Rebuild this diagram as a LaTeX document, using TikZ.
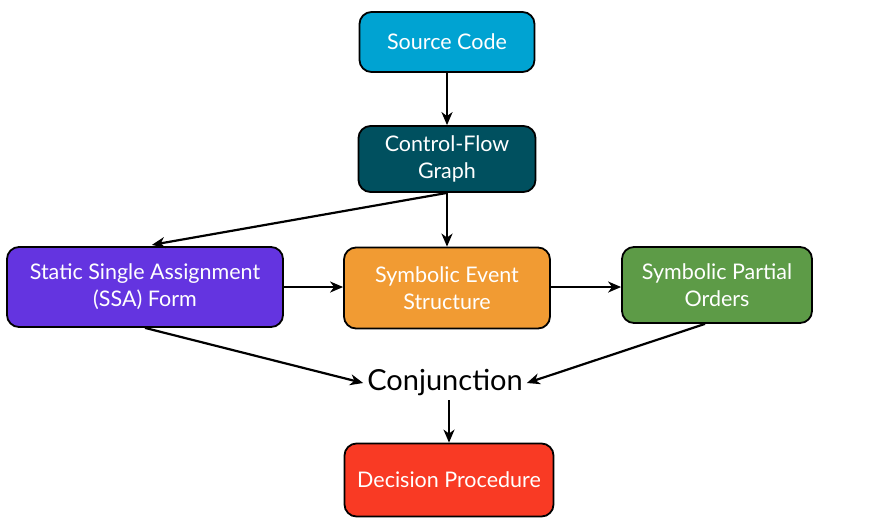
\documentclass[tikz,border=0pt]{standalone}
\usepackage{fontspec}
\setmainfont{Lato}
\usetikzlibrary{arrows.meta}
\definecolor{srccol}{HTML}{00A3D2}
\definecolor{cfgcol}{HTML}{00505F}
\definecolor{ssacol}{HTML}{6434E0}
\definecolor{seecol}{HTML}{F19B33}
\definecolor{spocol}{HTML}{5D9B47}
\definecolor{deccol}{HTML}{F93A24}
\tikzstyle{stage}=[rectangle,rounded corners=12pt,draw=black,line width=1.8pt,text=white,align=center,font=\fontsize{21.5}{27}\selectfont,inner sep=2pt]
\tikzstyle{flow}=[-{Stealth[length=13pt,width=11pt,inset=4pt]},line width=2.2pt]

\begin{document}
\begin{tikzpicture}[x=1pt,y=-1pt]
\useasboundingbox (0,0) rectangle (880,525);
\node[stage,fill=srccol,minimum width=175pt,minimum height=60pt] (src) at (447,42) {Source Code};
\node[stage,fill=cfgcol,minimum width=177pt,minimum height=66pt] (cfg) at (447,159) {Control-Flow\\Graph};
\node[stage,fill=ssacol,minimum width=276pt,minimum height=80pt] (ssa) at (145,287) {Static Single Assignment\\(SSA) Form};
\node[stage,fill=seecol,minimum width=206pt,minimum height=81pt] (see) at (447,288) {Symbolic Event\\Structure};
\node[stage,fill=spocol,minimum width=190pt,minimum height=76pt] (spo) at (717,285) {Symbolic Partial\\Orders};
\node[font=\fontsize{29}{34}\selectfont,inner sep=4pt] (conj) at (445,383) {Conjunction};
\node[stage,fill=deccol,minimum width=209pt,minimum height=73pt] (dec) at (449,480) {Decision Procedure};
\draw[flow] (src) -- (cfg);
\draw[flow] (cfg) -- (see);
\draw[flow,shorten >=7pt] (cfg.south) -- (ssa.north);
\draw[flow] (ssa.east) -- (ssa.east -| see.west);
\draw[flow] (see.east |- ssa.east) -- (spo.west |- ssa.east);
\draw[flow] (ssa.south) -- (conj.west);
\draw[flow] ([xshift=-12pt]spo.south) -- (conj.east);
\draw[flow] (dec.north |- conj.south) -- (dec.north);
\end{tikzpicture}
\end{document}
